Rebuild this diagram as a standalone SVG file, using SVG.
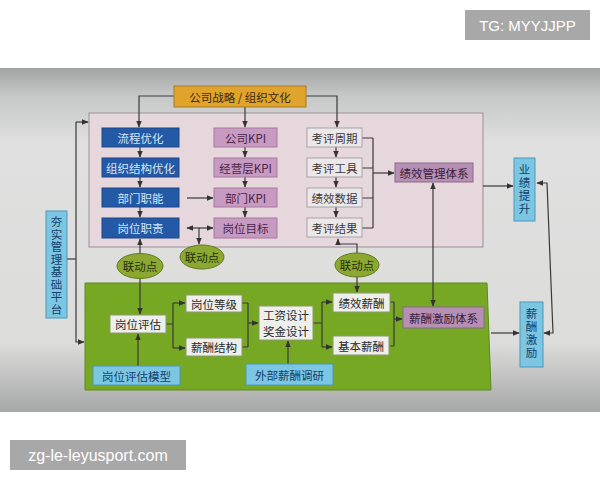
<svg xmlns="http://www.w3.org/2000/svg" width="600" height="480" viewBox="0 0 600 480">
<defs>
<linearGradient id="bg" x1="0" y1="0" x2="0" y2="1">
<stop offset="0" stop-color="#a2a4a4"/>
<stop offset="0.08" stop-color="#c6c8c8"/>
<stop offset="0.22" stop-color="#dfe0df"/>
<stop offset="0.8" stop-color="#dcdcdb"/>
<stop offset="1" stop-color="#a6a7a7"/>
</linearGradient>
<marker id="ah" viewBox="0 0 10 10" refX="9" refY="5" markerWidth="7" markerHeight="7" orient="auto-start-reverse" markerUnits="userSpaceOnUse"><path d="M0,1 L10,5 L0,9 z" fill="#333"/></marker>
<style>
text{font-family:"Noto Sans CJK SC","Noto Sans",sans-serif;font-size:11.5px;text-anchor:middle;dominant-baseline:central}
.blue rect{fill:#2459a6;stroke:#1d4688;stroke-width:1}
.blue text{fill:#d4e6f8}
.kpi rect{fill:#c79ac2;stroke:#a8799f;stroke-width:1}
.kpi text{fill:#4a2448}
.gray rect{fill:#ece8ea;stroke:#a8a4a6;stroke-width:1}
.gray text{fill:#3a3a3a}
.wht rect{fill:#eeeeeb;stroke:#8a9a70;stroke-width:1}
.wht text{fill:#2a2a2a}
.lb rect{fill:#7cc6e2;stroke:#4a98b8;stroke-width:1}
.lb text{fill:#15406a}
.mv rect{fill:#b690b4;stroke:#8a6a88;stroke-width:1}
.mv text{fill:#3c1c3a}
.el ellipse{fill:#8ca830;stroke:#5f7a20;stroke-width:1}
.el text{fill:#24300c}
.c path{fill:none;stroke:#3a3a3a;stroke-width:1.2}
</style>
</defs>
<rect x="0" y="68" width="600" height="344" fill="url(#bg)"/>
<rect id="pinkArea" x="89" y="113" width="394" height="134" fill="#e6d7dd" stroke="#a69ca2" stroke-width="1.2"/>
<path id="greenArea" d="M85,283 L487,283 L491,390 L85,390 Z" fill="#76a824" stroke="#5c8a1a" stroke-width="1"/>

<g class="c" id="connectors">
<path d="M174,96 H139 V127" marker-end="url(#ah)"/>
<path d="M245,107 V127" marker-end="url(#ah)"/>
<path d="M306,96 H337 V127" marker-end="url(#ah)"/>
<path d="M140,147 V157" marker-end="url(#ah)"/>
<path d="M140,177 V187" marker-end="url(#ah)"/>
<path d="M140,207 V217" marker-end="url(#ah)"/>
<path d="M245,147 V157" marker-end="url(#ah)"/>
<path d="M245,177 V187" marker-end="url(#ah)"/>
<path d="M245,207 V217" marker-end="url(#ah)"/>
<path d="M336,147 V157" marker-end="url(#ah)"/>
<path d="M336,177 V187" marker-end="url(#ah)"/>
<path d="M336,207 V217" marker-end="url(#ah)"/>
<path d="M187,198 H213" marker-end="url(#ah)"/>
<path d="M187,228 H213" marker-start="url(#ah)" marker-end="url(#ah)"/>
<path d="M199,228 V244" marker-end="url(#ah)"/>
<path d="M362,138 H373 M362,168 H373 M362,198 H373 M362,228 H373 M373,138 V228"/>
<path d="M373,173 H394" marker-end="url(#ah)"/>
<path d="M140,253 V239" marker-end="url(#ah)"/>
<path d="M140,279 V314" marker-end="url(#ah)"/>
<path d="M357,253 V244 H338 V239" marker-end="url(#ah)"/>
<path d="M357,277 V292" marker-end="url(#ah)"/>
<path d="M433,183 V306" marker-start="url(#ah)" marker-end="url(#ah)"/>
<path d="M483,186 H513" marker-end="url(#ah)"/>
<path d="M491,333 H519" marker-end="url(#ah)"/>
<path d="M537,183 H547 L553,333 H544" marker-start="url(#ah)" marker-end="url(#ah)"/>
<path d="M67,259 H76"/>
<path d="M76,122 H88" marker-end="url(#ah)"/>
<path d="M76,122 V342 H84" marker-end="url(#ah)"/>
<path d="M138,366 V334" marker-end="url(#ah)"/>
<path d="M166,324 H173 M173,303 V348"/>
<path d="M173,303 H185" marker-end="url(#ah)"/>
<path d="M173,348 H185" marker-end="url(#ah)"/>
<path d="M242,303 H248 M242,347 H248 M248,303 V347"/>
<path d="M248,323 H258" marker-end="url(#ah)"/>
<path d="M288,364 V341" marker-end="url(#ah)"/>
<path d="M313,323 H322 M322,302 V347"/>
<path d="M322,302 H332" marker-end="url(#ah)"/>
<path d="M322,347 H332" marker-end="url(#ah)"/>
<path d="M390,302 H394 M390,346 H394 M394,302 V346"/>
<path d="M394,319 H402" marker-end="url(#ah)"/>
</g>

<g id="strategy"><rect x="174" y="86" width="132" height="21" fill="#e0a42c" stroke="#a87a20"/><text x="240" y="96.5" fill="#3a2a10">公司战略 / 组织文化</text></g>

<g id="n1" class="blue"><rect x="102" y="128" width="77" height="19"/><text x="140.5" y="137.5">流程优化</text></g>
<g id="n2" class="blue"><rect x="102" y="158" width="77" height="19"/><text x="140.5" y="167.5">组织结构优化</text></g>
<g id="n3" class="blue"><rect x="102" y="188" width="77" height="19"/><text x="140.5" y="197.5">部门职能</text></g>
<g id="n4" class="blue"><rect x="102" y="218" width="77" height="20"/><text x="140.5" y="228">岗位职责</text></g>

<g id="k1" class="kpi"><rect x="214" y="128" width="63" height="19"/><text x="245.5" y="137.5">公司KPI</text></g>
<g id="k2" class="kpi"><rect x="214" y="158" width="63" height="19"/><text x="245.5" y="167.5">经营层KPI</text></g>
<g id="k3" class="kpi"><rect x="214" y="188" width="63" height="19"/><text x="245.5" y="197.5">部门KPI</text></g>
<g id="k4" class="kpi"><rect x="214" y="218" width="63" height="20"/><text x="245.5" y="228">岗位目标</text></g>

<g id="g1" class="gray"><rect x="307" y="128" width="55" height="19"/><text x="334.5" y="137.5">考评周期</text></g>
<g id="g2" class="gray"><rect x="307" y="158" width="55" height="19"/><text x="334.5" y="167.5">考评工具</text></g>
<g id="g3" class="gray"><rect x="307" y="188" width="55" height="19"/><text x="334.5" y="197.5">绩效数据</text></g>
<g id="g4" class="gray"><rect x="307" y="218" width="55" height="19"/><text x="334.5" y="227.5">考评结果</text></g>

<g id="perfSys" class="mv"><rect x="395" y="163" width="78" height="19"/><text x="434" y="172.5">绩效管理体系</text></g>

<g id="e1" class="el"><ellipse cx="140" cy="266" rx="23" ry="12.5"/><text x="140" y="266">联动点</text></g>
<g id="e2" class="el"><ellipse cx="202" cy="257" rx="22" ry="12"/><text x="202" y="257">联动点</text></g>
<g id="e3" class="el"><ellipse cx="357" cy="265" rx="22" ry="12"/><text x="357" y="265">联动点</text></g>

<g id="platform" class="lb"><rect x="46" y="211" width="21" height="107"/><text x="56.5" y="216" style="writing-mode:vertical-rl;text-anchor:start;dominant-baseline:central;letter-spacing:1px">夯实管理基础平台</text></g>
<g id="perfUp" class="lb"><rect x="514" y="158" width="21" height="63"/><text x="524.5" y="164" style="writing-mode:vertical-rl;text-anchor:start;dominant-baseline:central;letter-spacing:1.5px">业绩提升</text></g>
<g id="payInc" class="lb"><rect x="520" y="302" width="23" height="65"/><text x="531.5" y="308" style="writing-mode:vertical-rl;text-anchor:start;dominant-baseline:central;letter-spacing:1.5px">薪酬激励</text></g>

<g id="w1" class="wht"><rect x="110" y="315" width="56" height="18"/><text x="138" y="324">岗位评估</text></g>
<g id="w2" class="wht"><rect x="186" y="295" width="56" height="17"/><text x="214" y="303.5">岗位等级</text></g>
<g id="w3" class="wht"><rect x="186" y="338" width="56" height="18"/><text x="214" y="347">薪酬结构</text></g>
<g id="w4" class="wht"><rect x="259" y="306" width="54" height="34"/><text x="286" y="315">工资设计</text><text x="286" y="331">奖金设计</text></g>
<g id="w5" class="wht"><rect x="333" y="293" width="57" height="19"/><text x="361.5" y="302.5">绩效薪酬</text></g>
<g id="w6" class="wht"><rect x="333" y="336" width="56" height="19"/><text x="361" y="345.5">基本薪酬</text></g>
<g id="paySys" class="mv"><rect x="403" y="307" width="81" height="21"/><text x="443.5" y="317.5">薪酬激励体系</text></g>
<g id="model" class="lb"><rect x="93" y="366" width="87" height="19"/><text x="136.5" y="375.5">岗位评估模型</text></g>
<g id="survey" class="lb"><rect x="246" y="364" width="87" height="21"/><text x="289.5" y="374.5">外部薪酬调研</text></g>

<g id="wm1"><rect x="465" y="10" width="125" height="30" fill="#a8a8a8"/><text x="527.5" y="25" fill="#ffffff" style="font-family:'Liberation Sans',Arial,sans-serif;font-size:15px">TG: MYYJJPP</text></g>
<g id="wm2"><rect x="10" y="440" width="176" height="30" fill="#a8a8a8"/><text x="98" y="455" fill="#ffffff" style="font-family:'Liberation Sans',Arial,sans-serif;font-size:16px">zg-le-leyusport.com</text></g>
</svg>
